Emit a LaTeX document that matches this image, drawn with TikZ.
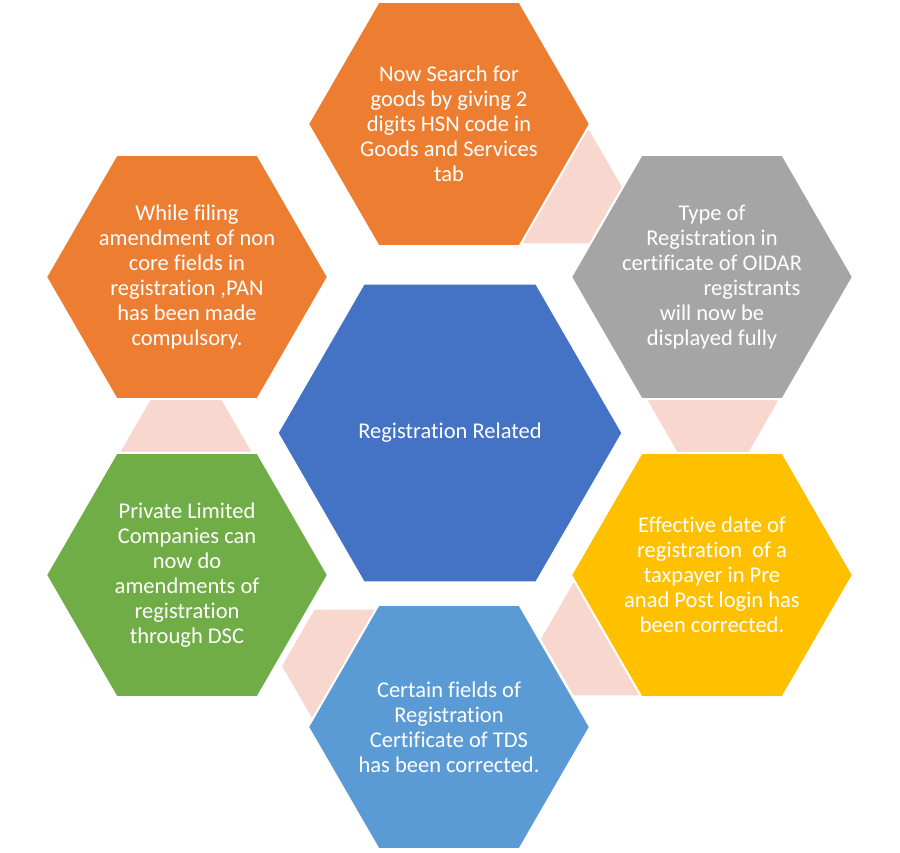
\documentclass[tikz,border=0pt]{standalone}
\usepackage{fontspec}
\setmainfont{Carlito}[Ligatures=NoCommon]
\usetikzlibrary{shapes.geometric}
\definecolor{hexorange}{HTML}{ED7D31}
\definecolor{hexgray}{HTML}{A5A5A5}
\definecolor{hexblue}{HTML}{4472C4}
\definecolor{hexyellow}{HTML}{FFC000}
\definecolor{hexgreen}{HTML}{70AD47}
\definecolor{hexsky}{HTML}{5B9BD5}
\definecolor{hexpink}{HTML}{F8D8CE}
\begin{document}
\begin{tikzpicture}[x=1pt, y=-1pt,
  hex/.style={regular polygon, regular polygon sides=6, minimum size=282pt, inner sep=0pt, draw=white, line width=2pt, fill=#1},
  link/.style={regular polygon, regular polygon sides=6, minimum size=132pt, inner sep=0pt, draw=white, line width=1.5pt, fill=hexpink},
  txt/.style={text=white, align=center, font=\fontsize{22.5}{25}\selectfont}]
   \useasboundingbox (0,0) rectangle (900,852);
   % links between the outer cells
   \node[link] (l1) at (557,187) {};
   \node[link] (l2) at (713,401) {};
   \node[link] (l3) at (606,639) {};
   \node[link] (l4) at (347,666) {};
   \node[link] (l5) at (186,451) {};

   % cells
   \node[hex=hexblue, minimum size=345pt] (mid) at (450,433) {};
   \node[hex=hexorange] (search) at (449,124) {};
   \node[hex=hexorange] (pan) at (187,277) {};
   \node[hex=hexgray] (oidar) at (712,277) {};
   \node[hex=hexgreen] (dsc) at (187,575) {};
   \node[hex=hexyellow] (date) at (712,575) {};
   \node[hex=hexsky] (tds) at (449,727) {};

   \node[txt] (midtxt) at (mid) {Registration Related};
   \node[txt] (searchtxt) at (search) {Now Search for\\goods by giving 2\\digits HSN code in\\Goods and Services\\tab};
   \node[txt] (pantxt) at (pan) {While filing\\amendment of non\\core fields in\\registration ,PAN\\has been made\\compulsory.};
   \node[txt] (oidartxt) at (oidar) {Type of\\Registration in\\certificate of OIDAR\\\hspace*{80pt}registrants\\will now be\\displayed fully};
   \node[txt] (dsctxt) at (dsc) {Private Limited\\Companies can\\now do\\amendments of\\registration\\through DSC};
   \node[txt] (datetxt) at (date) {Effective date of\\registration~ of a\\taxpayer in Pre\\anad Post login has\\been corrected.};
   \node[txt] (tdstxt) at (tds) {Certain fields of\\Registration\\Certificate of TDS\\has been corrected.};
\end{tikzpicture}
\end{document}
